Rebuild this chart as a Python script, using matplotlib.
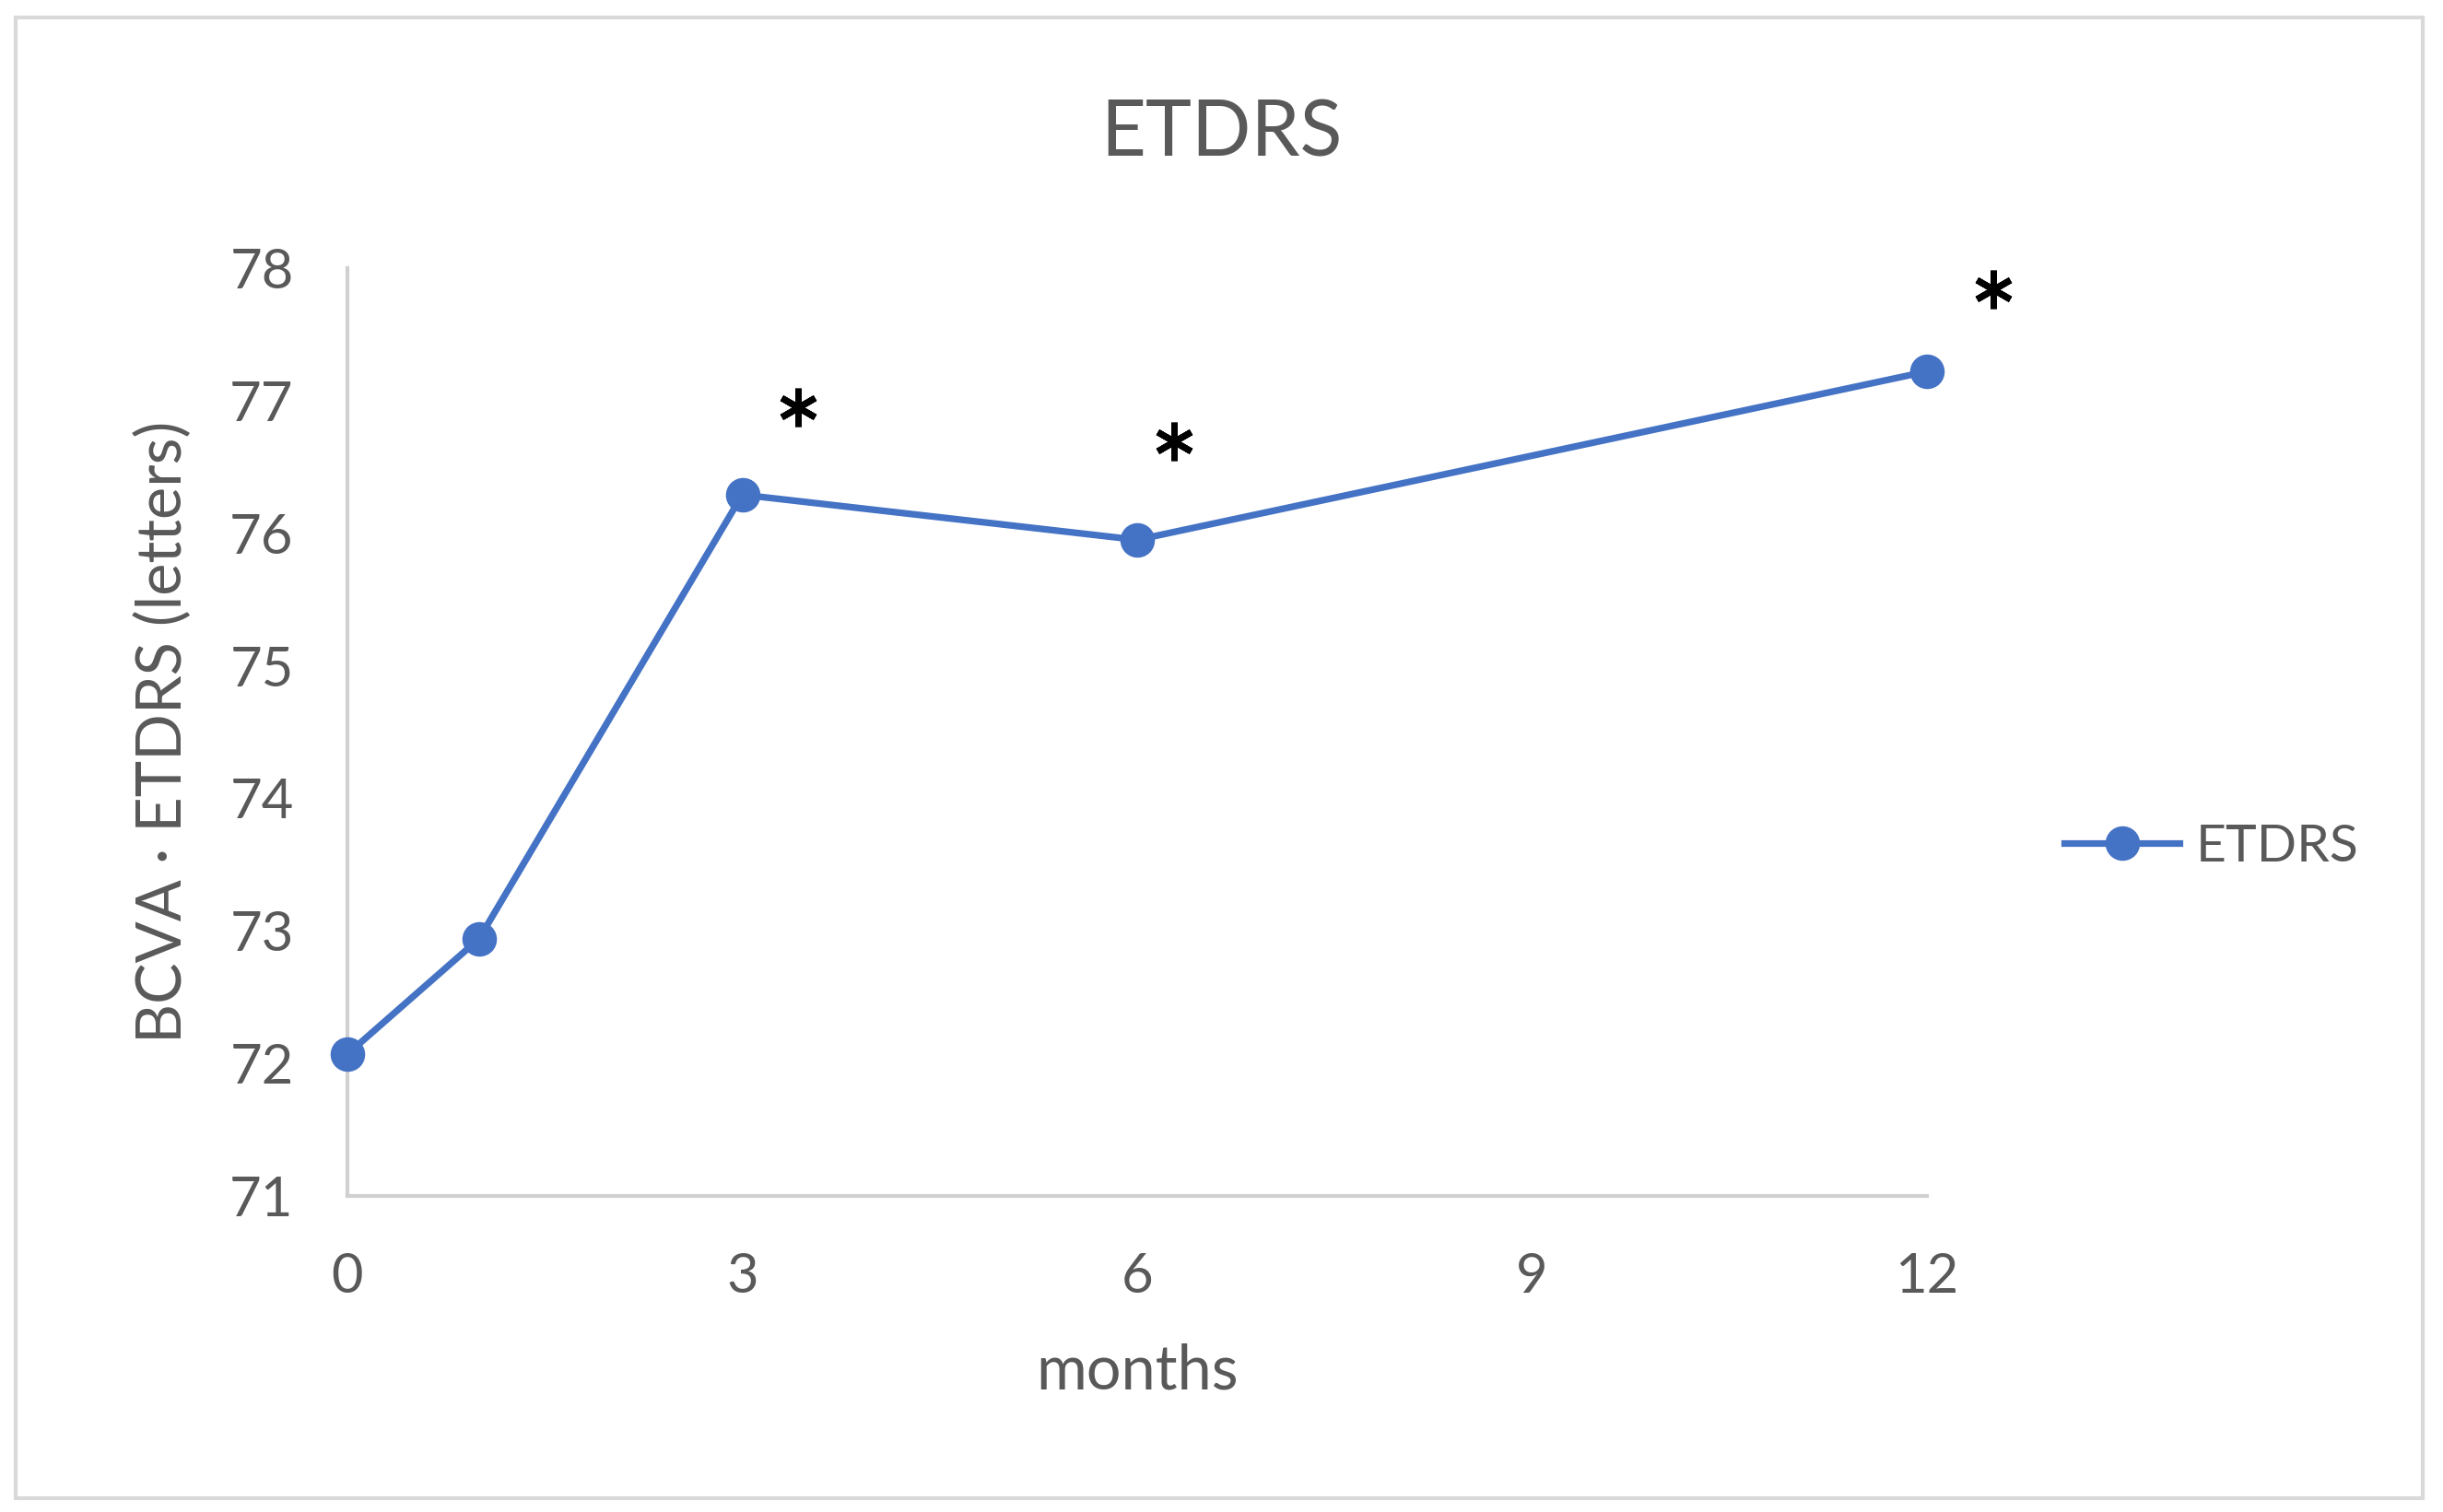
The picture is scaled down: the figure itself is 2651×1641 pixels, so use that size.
import matplotlib
matplotlib.use("Agg")
import matplotlib.pyplot as plt
from matplotlib.patches import Rectangle

plt.rcParams['font.family'] = ['Lato', 'DejaVu Sans']

months = [0, 1, 3, 6, 12]
etdrs = [72.07, 72.94, 76.29, 75.95, 77.22]
x_ticks = [0, 3, 6, 9, 12]
y_ticks = [71, 72, 73, 74, 75, 76, 77, 78]
# significance marks
star_x = [3.42, 6.28, 12.5]
star_y = [76.95, 76.69, 77.84]

blue = '#4472C4'
grey = '#595959'

fig = plt.figure(figsize=(26.51, 16.41), dpi=100)
ax = fig.add_axes([0.1422, 0.2090, 0.7888 - 0.1422, 0.8227 - 0.2090])

ax.plot(months, etdrs, color=blue, linewidth=5.2, marker='o', markersize=26,
        label='ETDRS', clip_on=False, zorder=3)
ax.plot(star_x, star_y, linestyle='none', marker=(6, 2, 0), markersize=30,
        markeredgewidth=5, color='black', clip_on=False)

ax.set_xlim(0, 12)
ax.set_ylim(71, 78)
ax.set_xticks(x_ticks)
ax.set_yticks(y_ticks)
ax.tick_params(length=0, labelsize=43, colors=grey)
ax.tick_params(axis='x', pad=44)
ax.tick_params(axis='y', pad=42)
for s in ['top', 'right']:
    ax.spines[s].set_visible(False)
for s in ['left', 'bottom']:
    ax.spines[s].set_color('#d0d0d0')
    ax.spines[s].set_linewidth(3)

ax.set_xlabel('months', fontsize=48, color=grey)
ax.xaxis.set_label_coords(0.5, -0.189)
ax.xaxis.label.set_va('center')
ax.set_ylabel('BCVA · ETDRS (letters)', fontsize=48, color=grey)
ax.yaxis.set_label_coords(-0.116, 0.5)
ax.yaxis.label.set_va('center')

fig.text(0.5, 1 - 146 / 1641, 'ETDRS', fontsize=61, color=grey,
         ha='center', va='center')

ax.legend(loc='center left', bbox_to_anchor=(1.057, 0.376), frameon=False,
          fontsize=41, labelcolor=grey, handlelength=2.2, handletextpad=0.3)

fig.patches.append(Rectangle((17 / 2651, 15 / 1641), (2629 - 17) / 2651,
                             (1624 - 17) / 1641, transform=fig.transFigure,
                             fill=False, edgecolor='#d9d9d9', linewidth=3))

fig.savefig('out.png', dpi=100)
